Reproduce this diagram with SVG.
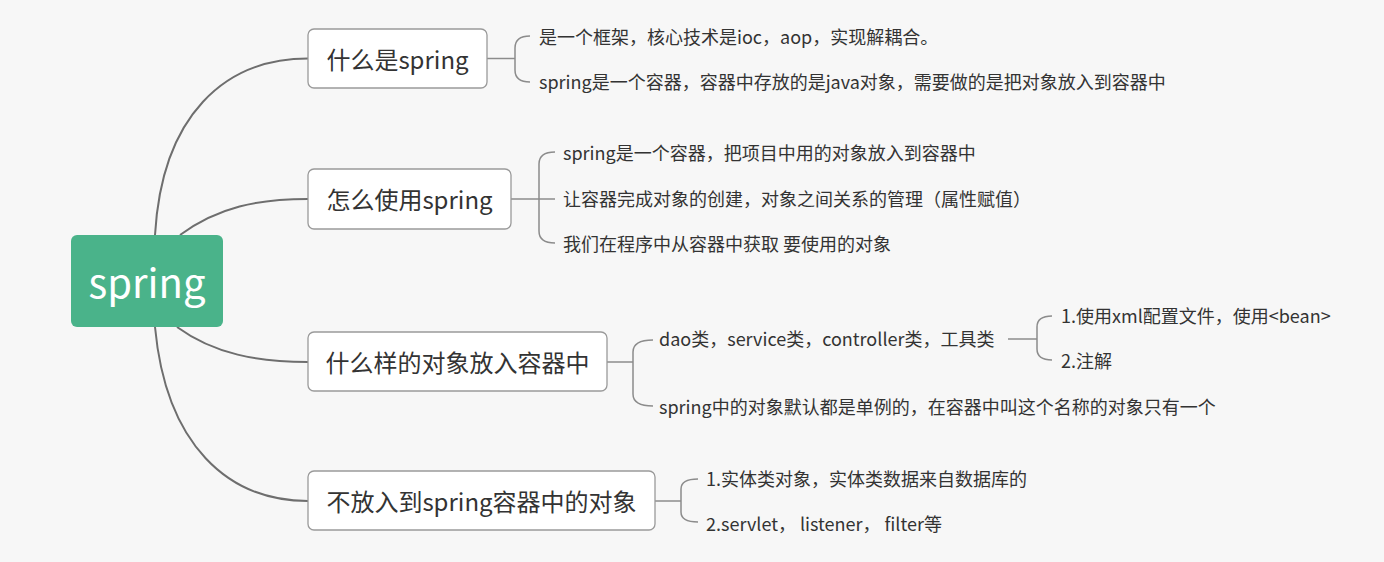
<svg xmlns="http://www.w3.org/2000/svg" width="1384" height="562" viewBox="0 0 1384 562">
<style>
.bg{fill:#f7f7f7}
.node rect{fill:#ffffff;stroke:#9a9a9a;stroke-width:1.3}
.node text{font-family:"Microsoft YaHei","Noto Sans CJK SC","Noto Sans",sans-serif;font-size:24px;fill:#333333;text-anchor:middle}
.leaf{font-family:"Microsoft YaHei","Noto Sans CJK SC","Noto Sans",sans-serif;font-size:18px;fill:#333333}
.main path{fill:none;stroke:#6e6e6e;stroke-width:2}
.brace path{fill:none;stroke:#8c8c8c;stroke-width:1.5}
</style>
<rect class="bg" x="0" y="0" width="1384" height="562"/>
<g id="connectors">
 <g class="main">
  <path d="M155,235 C162,115 225,58.5 308,58.5"/>
  <path d="M180,235 C218,207 258,199 308,199"/>
  <path d="M177,327 C214,354 258,362 308,362"/>
  <path d="M155,327 C166,445 228,501 308,501"/>
 </g>
 <g class="brace">
  <path d="M487,58.5 L515,58.5"/>
  <path d="M530,36 Q515,36 515,48 L515,70 Q515,82 530,82"/>
  <path d="M511,199 L555,199"/>
  <path d="M555,152 Q539,152 539,164 L539,231 Q539,243 555,243"/>
  <path d="M607,362 L633,362"/>
  <path d="M653,340 Q633,340 633,352 L633,394 Q633,406 653,406"/>
  <path d="M655,501 L681,501"/>
  <path d="M698,479 Q681,479 681,489 L681,512 Q681,522 698,522"/>
  <path d="M1008,339 L1037,339"/>
  <path d="M1052,316 Q1037,316 1037,327 L1037,349 Q1037,360 1052,360"/>
 </g>
</g>
<g id="root">
 <rect x="71" y="235" width="152" height="92" rx="6" fill="#4ab38a"/>
 <text x="147" y="298" font-family="Microsoft YaHei,'Noto Sans CJK SC','Noto Sans',sans-serif" font-size="40" fill="#ffffff" text-anchor="middle">spring</text>
</g>
<g id="n1" class="node">
 <rect x="308" y="29" width="179" height="59" rx="6"/>
 <text x="397.5" y="69">什么是spring</text>
</g>
<g id="n2" class="node">
 <rect x="308" y="169" width="203" height="60" rx="6"/>
 <text x="409.5" y="209">怎么使用spring</text>
</g>
<g id="n3" class="node">
 <rect x="308" y="332" width="299" height="59" rx="6"/>
 <text x="457.5" y="372">什么样的对象放入容器中</text>
</g>
<g id="n4" class="node">
 <rect x="308" y="471" width="347" height="59" rx="6"/>
 <text x="481.5" y="511">不放入到spring容器中的对象</text>
</g>
<g id="n1-leaves">
 <text class="leaf" x="539" y="44">是一个框架，核心技术是ioc，aop，实现解耦合。</text>
 <text class="leaf" x="539" y="89">spring是一个容器，容器中存放的是java对象，需要做的是把对象放入到容器中</text>
</g>
<g id="n2-leaves">
 <text class="leaf" x="563" y="160">spring是一个容器，把项目中用的对象放入到容器中</text>
 <text class="leaf" x="563" y="206">让容器完成对象的创建，对象之间关系的管理（属性赋值）</text>
 <text class="leaf" x="563" y="251">我们在程序中从容器中获取 要使用的对象</text>
</g>
<g id="n3-leaves">
 <text class="leaf" x="659" y="346">dao类，service类，controller类，工具类</text>
 <text class="leaf" x="659" y="414">spring中的对象默认都是单例的，在容器中叫这个名称的对象只有一个</text>
</g>
<g id="n3-sub-leaves">
 <text class="leaf" x="1061" y="323">1.使用xml配置文件，使用&lt;bean&gt;</text>
 <text class="leaf" x="1061" y="368">2.注解</text>
</g>
<g id="n4-leaves">
 <text class="leaf" x="706" y="486">1.实体类对象，实体类数据来自数据库的</text>
 <text class="leaf" x="706" y="531">2.servlet， listener， filter等</text>
</g>
</svg>
